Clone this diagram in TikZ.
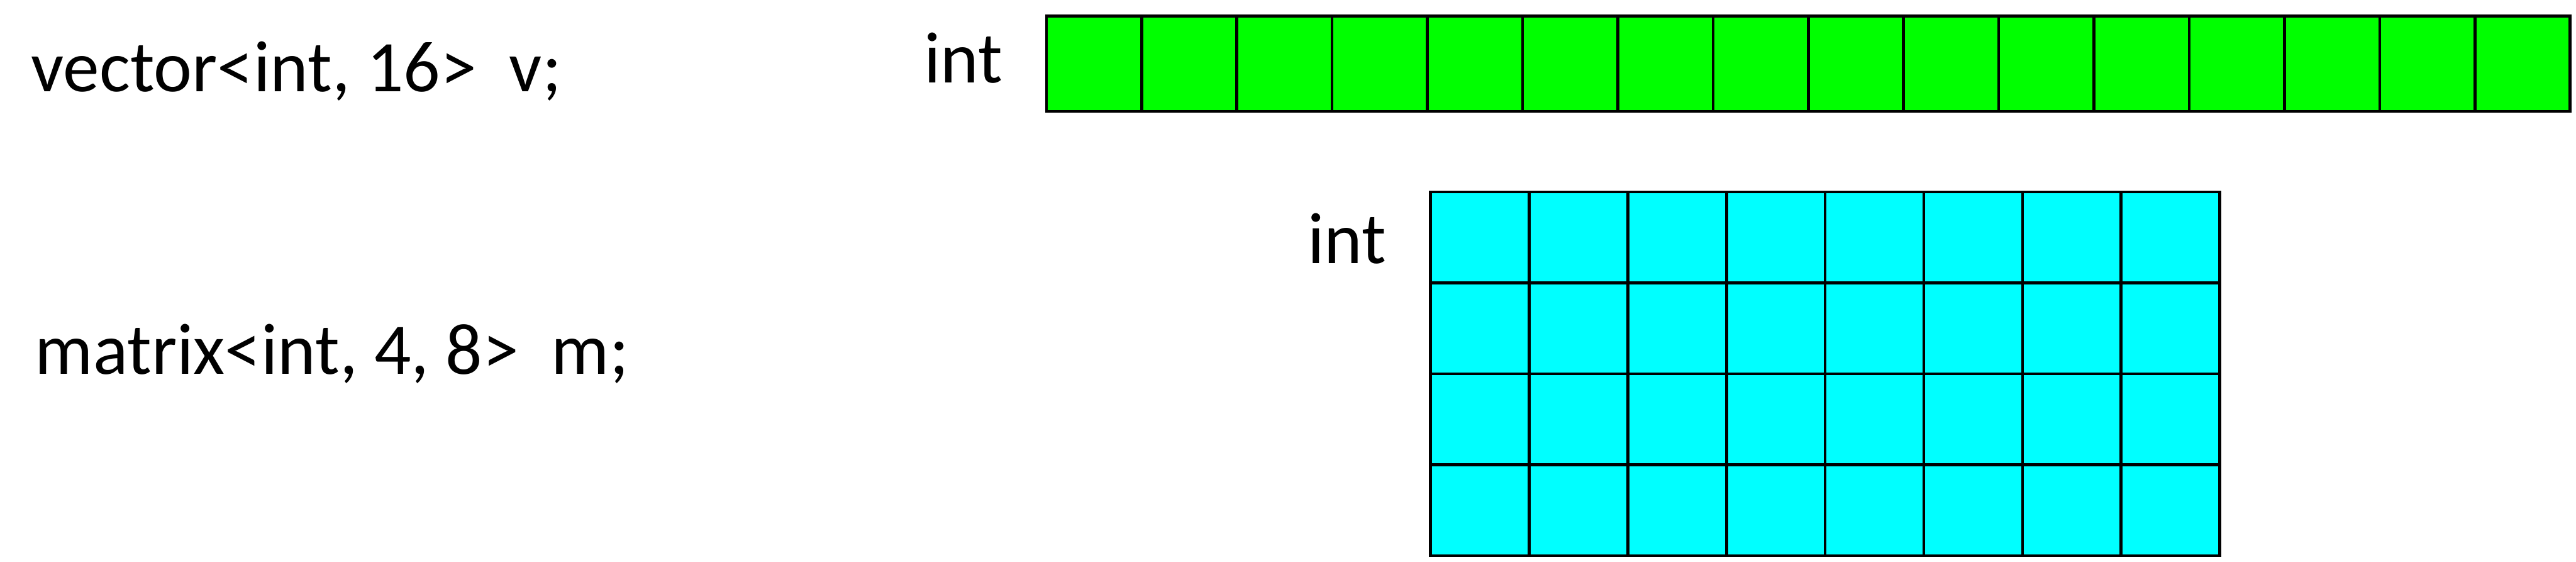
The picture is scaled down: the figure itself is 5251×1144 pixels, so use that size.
\documentclass[tikz,border=0pt]{standalone}
\usepackage{fontspec}
\setmainfont{Carlito}
\usepackage{xcolor}

\definecolor{vgreen}{RGB}{0,255,0}
\definecolor{mcyan}{RGB}{0,255,255}

\begin{document}
\begin{tikzpicture}[x=0.01cm, y=-0.01cm] % 1 unit = 1 px of the layout
        \tikzset{
          decl/.style={anchor=base west, inner sep=0pt, font=\fontsize{42.1}{50}\selectfont},
          vcell/.style={fill=vgreen, draw=black, line width=1.7pt},
          mcell/.style={fill=mcyan, draw=black, line width=1.7pt}
        }
        \useasboundingbox (0,0) rectangle (5251,1144);

        % Declarations
        \node[decl] (vdecl) at (63,187) {vector<int, 16>\ \ v;};
        \node[decl] (mdecl) at (71,762) {matrix<int, 4, 8>\ \ m;};

        % Element type labels
        \node[decl] (vtype) at (1883,169) {int};
        \node[decl] (mtype) at (2665,537) {int};

        % Vector of 16 cells
        \foreach \i in {0,...,15}
            \filldraw[vcell] ({2133+194.125*\i},33) rectangle ++(194.125,194);

        % Matrix of 4 x 8 cells
        \foreach \r in {0,...,3}
            \foreach \c in {0,...,7}
                \filldraw[mcell] ({2916+201.1*\c},{391+185.25*\r}) rectangle ++(201.1,185.25);
    \end{tikzpicture}
\end{document}
